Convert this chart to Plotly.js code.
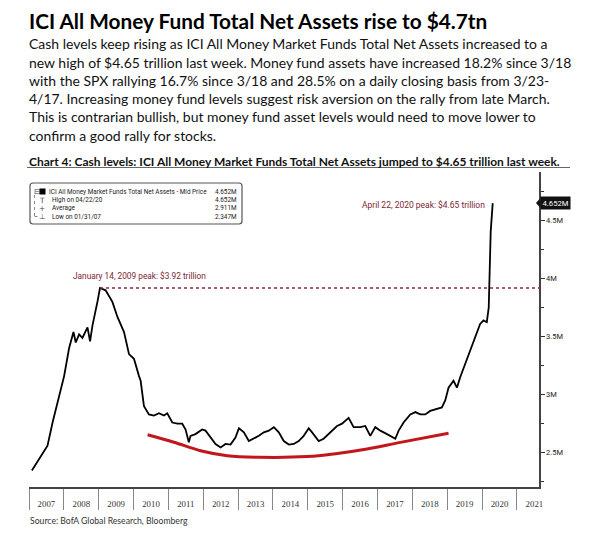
<!DOCTYPE html>
<html><head><meta charset="utf-8">
<script src="https://cdn.plot.ly/plotly-3.0.1.min.js"></script>
<style>html,body{margin:0;padding:0;background:#fff;}#chart{width:590px;height:538px;}</style>
</head><body><div id="chart"></div>
<script>
// ---------------- DATA ----------------
const dates = ['2007-01-31','2007-04-17','2007-07-14','2007-09-05','2007-11-13','2008-01-04','2008-02-25','2008-04-11','2008-05-05','2008-06-09','2008-07-14','2008-09-05','2008-10-02','2008-10-27','2008-12-18','2009-01-14','2009-03-14','2009-05-24','2009-07-16','2009-09-23','2009-11-14','2010-01-05','2010-02-27','2010-03-16','2010-04-20','2010-06-11','2010-08-02','2010-09-24','2010-11-15','2010-12-20','2011-02-11','2011-04-04','2011-05-26','2011-06-30','2011-08-03','2011-08-21','2011-10-12','2011-12-21','2012-01-25','2012-03-18','2012-05-09','2012-07-01','2012-08-22','2012-10-13','2012-12-04','2013-01-09','2013-03-02','2013-04-23','2013-06-15','2013-08-06','2013-09-27','2013-11-18','2014-01-10','2014-03-03','2014-04-24','2014-06-16','2014-08-07','2014-09-28','2014-11-19','2015-01-11','2015-02-15','2015-04-25','2015-06-16','2015-08-25','2015-11-03','2015-12-26','2016-03-04','2016-04-25','2016-07-04','2016-08-25','2016-10-17','2016-12-08','2017-01-30','2017-04-10','2017-07-06','2017-08-10','2017-10-01','2017-12-10','2018-02-01','2018-03-25','2018-05-16','2018-07-07','2018-08-28','2018-11-06','2018-12-11','2019-01-15','2019-03-08','2019-04-13','2019-05-17','2019-07-08','2019-08-29','2019-10-21','2019-12-12','2020-01-16','2020-02-20','2020-03-11','2020-03-18','2020-03-25','2020-04-01','2020-04-22'];
const assets = [2.347,2.448,2.56,2.76,2.99,3.16,3.40,3.54,3.45,3.52,3.49,3.58,3.46,3.595,3.80,3.92,3.90,3.80,3.67,3.54,3.35,3.31,3.16,3.12,2.90,2.83,2.82,2.84,2.82,2.84,2.76,2.75,2.75,2.70,2.59,2.645,2.66,2.70,2.69,2.63,2.575,2.545,2.575,2.57,2.63,2.71,2.675,2.60,2.62,2.645,2.675,2.69,2.72,2.675,2.60,2.57,2.575,2.60,2.645,2.71,2.675,2.60,2.62,2.675,2.73,2.75,2.80,2.72,2.72,2.73,2.645,2.72,2.69,2.66,2.62,2.69,2.76,2.83,2.85,2.83,2.83,2.86,2.875,2.89,2.95,3.06,3.12,3.06,3.15,3.265,3.38,3.49,3.61,3.64,3.625,3.75,3.925,4.18,4.41,4.652];
const trendDates = ['2010-05-28','2011-02-28','2011-12-04','2012-09-09','2013-08-22','2014-12-25','2015-09-30','2016-09-13','2017-08-28','2019-01-15'];
const trendValues = [2.655,2.59,2.517,2.474,2.46,2.466,2.489,2.532,2.589,2.667];
const peak2009 = {date:'2009-01-14', value:3.92, label:'January 14, 2009 peak: $3.92 trillion'};
const peak2020 = {date:'2020-04-22', value:4.652, label:'April 22, 2020 peak: $4.65 trillion', tag:'4.652M'};
const yTickVals = [2.5,3,3.5,4,4.5];
const yTickText = ['2.5M','3M','3.5M','4M','4.5M'];
const legendRows = ['ICI All Money Market Funds Total Net Assets - Mid Price','High on 04/22/20','Average','Low on 01/31/07'];
const legendValues = ['4.652M','4.652M','2.911M','2.347M'];
const titleText = 'ICI All Money Fund Total Net Assets rise to $4.7tn';
const bodyLines = [
 'Cash levels keep rising as ICI All Money Market Funds Total Net Assets increased to a',
 'new high of $4.65 trillion last week. Money fund assets have increased 18.2% since 3/18',
 'with the SPX rallying 16.7% since 3/18 and 28.5% on a daily closing basis from 3/23-',
 '4/17. Increasing money fund levels suggest risk aversion on the rally from late March.',
 'This is contrarian bullish, but money fund asset levels would need to move lower to',
 'confirm a good rally for stocks.'];
const chartCaption = 'Chart 4: Cash levels: ICI All Money Market Funds Total Net Assets jumped to $4.65 trillion last week.';
const sourceText = 'Source: BofA Global Research, Bloomberg';

// ---------------- LAYOUT HELPERS ----------------
const W=590,H=538,L=29,R=51,T=172,B=51,PW=W-L-R,PH=H-T-B;
const yMin=2.204,yMax=4.92;
const xStart='2007-01-01', xEnd='2021-08-20';
const px=p=>(p-L)/PW, py=p=>(H-B-p)/PH;
const SANS="Lato, 'Open Sans', sans-serif";
const NARROW="Roboto, 'Liberation Sans', Arial, sans-serif";
const SERIF="'Liberation Serif', serif";
const ctx=document.createElement('canvas').getContext('2d');
function fit(text,family,weight,width){ctx.font=weight+' 100px '+family;return 100*width/ctx.measureText(text).width;}

const anns=[];
function txt(text,x,y,size,family,opts){
  opts=opts||{};
  anns.push(Object.assign({text:text,xref:'paper',yref:'paper',x:px(x),y:py(y),xanchor:opts.xanchor||'left',yanchor:'middle',showarrow:false,align:opts.xanchor||'left',
    font:{family:family,size:size,color:opts.color||'#111',weight:opts.weight||'normal'}},opts.extra||{}));
}
// header
txt(titleText,27,21,fit(titleText,SANS,'bold',461),SANS,{weight:'bold',color:'#000'});
const bodyWidths=[514,539,537,518,506];
let bs=0;for(let i=0;i<5;i++)bs+=fit(bodyLines[i],SANS,'normal',bodyWidths[i]);bs/=5;
const bodyY=[43.3,62.3,80.7,98.6,116.8,135];
bodyLines.forEach((l,i)=>txt(l,27,bodyY[i],bs,SANS,{color:'#111'}));
txt(chartCaption,27,161.5,fit(chartCaption,SANS,'bold',533),SANS,{weight:'bold',color:'#111'});
txt(sourceText,28,520.5,fit(sourceText,SANS,'normal',158),SANS,{color:'#333'});
// chart annotations
const annColor='#7d2433';
txt(peak2009.label,71,275.5,fit(peak2009.label,NARROW,'normal',133),NARROW,{color:annColor});
txt(peak2020.label,360,205,fit(peak2020.label,NARROW,'normal',123),NARROW,{color:annColor});
// legend
const lgSize=fit(legendRows[0],NARROW,'normal',158);
const lgY=[191.5,200,208.2,216.5];
legendRows.forEach((r,i)=>{txt(r,i===0?47:49.5,lgY[i],lgSize,NARROW,{color:'#1a1a1a'});
  txt(legendValues[i],239,lgY[i],lgSize,NARROW,{color:'#1a1a1a',xanchor:'right'});});
const icons=['⊟','T','+','⊥'];
txt(icons[0],31.5,lgY[0],lgSize+1.5,"'DejaVu Sans', sans-serif",{color:'#444'});
for(let i=1;i<4;i++)txt(icons[i],41.5,lgY[i],lgSize+1,"'DejaVu Sans', sans-serif",{color:'#444',xanchor:'center'});
// price tag
anns.push({text:peak2020.tag,xref:'paper',yref:'y',x:1,y:peak2020.value,xanchor:'left',yanchor:'middle',xshift:1,showarrow:false,
  bgcolor:'#111',borderpad:1.5,font:{family:NARROW,size:fit(peak2020.tag,NARROW,'normal',26),color:'#fff'}});

function roundRect(x0,y0,x1,y1,r){
  const X=px,Y=py;
  return `M${X(x0+r)},${Y(y0)} L${X(x1-r)},${Y(y0)} Q${X(x1)},${Y(y0)} ${X(x1)},${Y(y0+r)} L${X(x1)},${Y(y1-r)} Q${X(x1)},${Y(y1)} ${X(x1-r)},${Y(y1)} L${X(x0+r)},${Y(y1)} Q${X(x0)},${Y(y1)} ${X(x0)},${Y(y1-r)} L${X(x0)},${Y(y0+r)} Q${X(x0)},${Y(y0)} ${X(x0+r)},${Y(y0)} Z`;
}
const tagPix=H-B-(peak2020.value-yMin)/(yMax-yMin)*PH;
const shapes=[
  {type:'path',xref:'paper',yref:'paper',path:roundRect(30,183,242,224,3),line:{color:'#555',width:1.2},fillcolor:'#fff',layer:'above'},
  {type:'rect',xref:'paper',yref:'paper',x0:px(39.5),x1:px(45.5),y0:py(188.5),y1:py(194.5),line:{width:0},fillcolor:'#000'},
  {type:'line',xref:'paper',yref:'paper',x0:px(34.5),x1:px(34.5),y0:py(195),y1:py(216.5),line:{color:'#888',width:1,dash:'dot'}},
  {type:'line',xref:'paper',yref:'paper',x0:px(34.5),x1:px(38),y0:py(216.5),y1:py(216.5),line:{color:'#888',width:1,dash:'dot'}},
  {type:'line',xref:'paper',yref:'paper',x0:px(27),x1:px(570),y0:py(167.5),y1:py(167.5),line:{color:'#666',width:1}},
  {type:'line',xref:'x',yref:'y',x0:peak2009.date,x1:xEnd,y0:peak2009.value,y1:peak2009.value,line:{color:'#8b2a3a',width:1.4,dash:'dot'}},
  {type:'path',xref:'paper',yref:'paper',path:`M${px(536)},${py(tagPix)} L${px(540.5)},${py(tagPix-5)} L${px(540.5)},${py(tagPix+5)} Z`,line:{width:0},fillcolor:'#111'}
];

const traces=[
  {x:trendDates,y:trendValues,type:'scatter',mode:'lines',line:{color:'#c0161c',width:3,shape:'spline'},hoverinfo:'skip'},
  {x:dates,y:assets,type:'scatter',mode:'lines',line:{color:'#000',width:1.8},hoverinfo:'skip'}
];
const layout={
  width:W,height:H,margin:{l:L,r:R,t:T,b:B,pad:0},paper_bgcolor:'#fff',plot_bgcolor:'#fff',showlegend:false,
  font:{family:NARROW},
  xaxis:{type:'date',range:[xStart,xEnd],showgrid:false,zeroline:false,showline:true,linecolor:'#444',linewidth:1.5,
    ticks:'outside',ticklen:21,tickcolor:'#888',tickwidth:1,tickmode:'linear',dtick:'M12',tick0:'2007-01-01',
    ticklabelmode:'period',tickformat:'%Y',ticklabelstandoff:-13,tickfont:{family:SERIF,size:8.8,color:'#333'},fixedrange:true},
  yaxis:{side:'right',range:[yMin,yMax],showgrid:false,zeroline:false,showline:true,linecolor:'#444',linewidth:1.5,
    ticks:'outside',ticklen:4,tickcolor:'#333',tickmode:'array',tickvals:yTickVals,ticktext:yTickText,
    tickfont:{family:NARROW,size:fit('3.5M',NARROW,'normal',17),color:'#222'},
    minor:{tickmode:'linear',tick0:2.25,dtick:0.25,ticks:'outside',ticklen:3,tickcolor:'#333'},fixedrange:true},
  annotations:anns,shapes:shapes
};
Plotly.newPlot('chart',traces,layout,{staticPlot:true,displayModeBar:false});
</script></body></html>
